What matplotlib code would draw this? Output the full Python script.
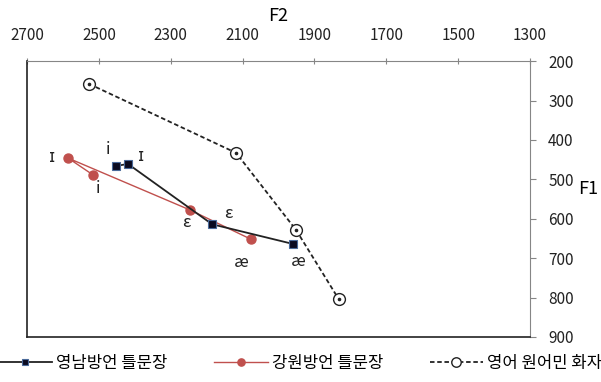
import matplotlib
matplotlib.use("Agg")
import matplotlib.pyplot as plt

plt.rcParams['font.family'] = ['Noto Sans CJK KR', 'DejaVu Sans']

# vowel formants (F2, F1)
yn_vowels = ['i', 'ɪ', 'ε', 'æ']
yn_f2 = [2452, 2419, 2185, 1960]
yn_f1 = [466, 461, 614, 664]

gw_vowels = ['i', 'ɪ', 'ε', 'æ']
gw_f2 = [2516, 2586, 2246, 2077]
gw_f1 = [489, 446, 578, 652]

en_f2 = [2527, 2118, 1951, 1832]
en_f1 = [258, 433, 629, 805]

legend_labels = ['영남방언 틀문장', '강원방언 틀문장', '영어 원어민 화자']

x_ticks = [2700, 2500, 2300, 2100, 1900, 1700, 1500, 1300]
y_ticks = [200, 300, 400, 500, 600, 700, 800, 900]

fig = plt.figure(figsize=(6.01, 3.82), dpi=100)
ax = fig.add_axes([0.045, 0.118, 0.837, 0.722])

ax.plot(yn_f2, yn_f1, color='#222222', lw=1.3, marker='s', ms=5.5,
        mfc='#0a0a20', mec='#4a6a9a', mew=0.8, label=legend_labels[0], zorder=4)
ax.plot(gw_f2, gw_f1, color='#C0504D', lw=1.0, marker='o', ms=6.5,
        mfc='#C0504D', mec='#C0504D', label=legend_labels[1], zorder=3)
ax.plot(en_f2, en_f1, color='#222222', lw=1.3, ls=(0, (2.5, 1.5)), marker='o', ms=8.5,
        mfc='white', mec='#222222', mew=1.0, label=legend_labels[2], zorder=2)
ax.plot(en_f2, en_f1, ls='none', marker='o', ms=1.6, color='#222222', zorder=2)

# data labels, offsets in pixels
yn_off = [(-8, 16), (13, 7), (16, 11), (5, -18)]
gw_off = [(5, -14), (-16, 1), (-4, -12), (-10, -23)]
for v, x, y, o in zip(yn_vowels, yn_f2, yn_f1, yn_off):
    ax.annotate(v, (x, y), xytext=o, textcoords='offset pixels',
                ha='center', va='center', fontsize=12, color='#222222')
for v, x, y, o in zip(gw_vowels, gw_f2, gw_f1, gw_off):
    ax.annotate(v, (x, y), xytext=o, textcoords='offset pixels',
                ha='center', va='center', fontsize=12, color='#222222')

ax.set_xlim(2700, 1300)
ax.set_ylim(900, 200)
ax.set_xticks(x_ticks)
ax.set_yticks(y_ticks)

ax.xaxis.tick_top()
ax.yaxis.tick_right()
ax.tick_params(axis='x', direction='inout', length=5, pad=10, labelsize=11,
               color='#868686', labelcolor='#222222')
ax.tick_params(axis='y', direction='out', length=4, pad=9, labelsize=11,
               color='#868686', labelcolor='#222222')

ax.set_xlabel('F2', fontsize=13)
ax.xaxis.set_label_position('top')
ax.xaxis.labelpad = 4.5
ax.set_ylabel('F1', fontsize=13, rotation=0, va='center', ha='left')
ax.yaxis.set_label_position('right')
ax.yaxis.set_label_coords(1.095, 0.57)

for side in ['top', 'right']:
    ax.spines[side].set_color('#868686')
for side in ['left', 'bottom']:
    ax.spines[side].set_color('#222222')
    ax.spines[side].set_linewidth(1.2)

fig.legend(loc='center', bbox_to_anchor=(0.5, 0.048), ncol=3, frameon=False,
           fontsize=12, handlelength=3.2, handletextpad=0.25, columnspacing=2.8,
           borderaxespad=0, borderpad=0, markerscale=0.8)

fig.savefig('out.png', dpi=100)
